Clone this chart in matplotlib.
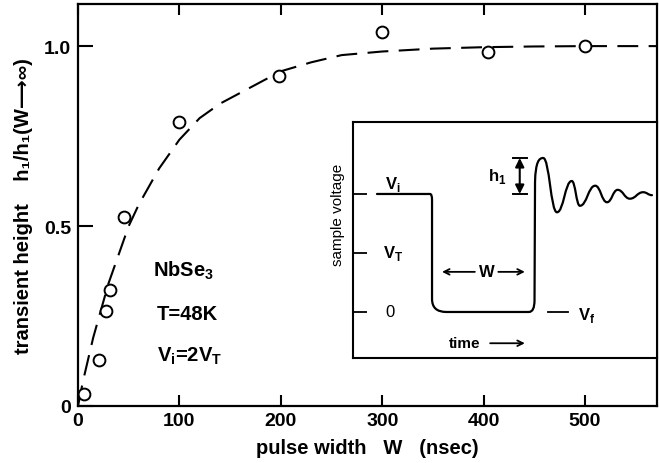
import matplotlib
matplotlib.use("Agg")
import matplotlib.pyplot as plt
from matplotlib.path import Path
from matplotlib.patches import PathPatch

plt.rcParams['font.family'] = ['Liberation Sans', 'DejaVu Sans']
plt.rcParams['font.weight'] = 'bold'
plt.rcParams['axes.labelweight'] = 'bold'
plt.rcParams['mathtext.fontset'] = 'custom'
plt.rcParams['mathtext.rm'] = 'Liberation Sans:bold'

# -----------------------------
# DATA
# -----------------------------
pulse_w = [6, 21, 28, 32, 45, 100, 198, 300, 404, 500]
height = [0.033, 0.128, 0.264, 0.322, 0.525, 0.79, 0.916, 1.039, 0.983, 1.0]

# dashed guide curve
fit_w = [0, 5, 10, 15, 20, 30, 40, 50, 60, 70, 80, 90, 100, 120, 140, 160,
         180, 200, 230, 260, 300, 350, 400, 450, 500, 570]
fit_h = [0, 0.07, 0.13, 0.19, 0.24, 0.34, 0.42, 0.50, 0.56, 0.61, 0.66, 0.70,
         0.74, 0.80, 0.84, 0.87, 0.90, 0.93, 0.955, 0.975, 0.985, 0.993,
         0.997, 0.999, 1.0, 1.0]

x_ticks = [0, 100, 200, 300, 400, 500]
y_ticks = [0, 0.5, 1.0]
y_ticklabels = ["0", "0.5", "1.0"]

# inset: schematic voltage vs time (W = 100 time units, V_T = 1, V_i = 2)
v_levels = [0, 1, 2]
ring_t = [109, 122.5, 137, 145, 160, 171.6, 182, 194, 207, 215.7]
ring_v = [2.61, 1.69, 2.22, 1.80, 2.14, 1.86, 2.07, 1.92, 2.03, 1.98]

# -----------------------------
# FIGURE
# -----------------------------
fig = plt.figure(figsize=(6.59, 4.64), dpi=100)
ax = fig.add_axes([78 / 659, 57 / 464, 579 / 659, 402 / 464])

ax.plot(fit_w, fit_h, color="black", lw=1.5, linestyle=(0, (10, 5)))
ax.plot(pulse_w, height, "o", mfc="white", mec="black", ms=8.5, mew=1.4)

ax.set_xlim(0, 571)
ax.set_ylim(0, 1.117)
ax.set_xticks(x_ticks)
ax.set_yticks(y_ticks)
ax.set_yticklabels(y_ticklabels)
ax.tick_params(axis="x", direction="in", length=8, width=1.5, top=True,
               labelsize=14, pad=4)
ax.tick_params(axis="y", direction="in", length=11, width=1.5,
               labelsize=14, pad=5)
for s in ax.spines.values():
    s.set_linewidth(1.6)

ax.set_xlabel("pulse width   W   (nsec)", fontsize=14.5, labelpad=7)
ax.set_ylabel("transient height    h\u2081/h\u2081(W\u27f6\u221e)",
              fontsize=14.5, labelpad=8)

ax.text(74, 0.378, r"NbSe$_\mathregular{3}$", fontsize=14.5, va="center")
ax.text(78, 0.258, "T=48K", fontsize=14.5, va="center")
ax.text(78, 0.14, r"V$_\mathregular{i}$=2V$_\mathregular{T}$", fontsize=14.5,
        va="center")

# -----------------------------
# INSET
# -----------------------------
ax_in = fig.add_axes([353 / 659, 105 / 464, 304 / 659, 236 / 464])
ax_in.set_xlim(-77.5, 220.6)
ax_in.set_ylim(-0.78, 3.22)
ax_in.set_xticks([])
ax_in.set_yticks(v_levels)
ax_in.set_yticklabels([])
ax_in.tick_params(axis="y", direction="in", length=10, width=1.3)
for s in ax_in.spines.values():
    s.set_linewidth(1.5)

verts = [(-54, 2.0), (-2, 2.0), (0, 2.0), (0, 1.9),
         (0, 0.22), (0, 0.0), (14, 0.0),
         (95, 0.0), (100.5, 0.0), (100.5, 0.2),
         (101, 2.2), (101.5, 2.55), (105, 2.61), (ring_t[0], ring_v[0])]
codes = [Path.MOVETO, Path.LINETO, Path.CURVE3, Path.CURVE3,
         Path.LINETO, Path.CURVE3, Path.CURVE3,
         Path.LINETO, Path.CURVE3, Path.CURVE3,
         Path.LINETO, Path.CURVE4, Path.CURVE4, Path.CURVE4]
for i in range(1, len(ring_t)):
    dt = ring_t[i] - ring_t[i - 1]
    verts += [(ring_t[i - 1] + 0.45 * dt, ring_v[i - 1]),
              (ring_t[i] - 0.45 * dt, ring_v[i]),
              (ring_t[i], ring_v[i])]
    codes += [Path.CURVE4, Path.CURVE4, Path.CURVE4]
ax_in.add_patch(PathPatch(Path(verts, codes), fill=False, lw=1.6,
                          edgecolor="black", capstyle="round"))

ax_in.plot([113.7, 133.3], [0, 0], color="black", lw=1.3)

# h1 marker
ax_in.plot([79, 93], [2.61, 2.61], color="black", lw=1.4)
ax_in.plot([79, 93], [2.0, 2.0], color="black", lw=1.4)
ax_in.annotate("", xy=(86, 2.61), xytext=(86, 2.0),
               arrowprops=dict(arrowstyle="<|-|>", color="black", lw=1.5,
                               shrinkA=0, shrinkB=0, mutation_scale=13))
ax_in.text(64, 2.31, r"h$_\mathregular{1}$", fontsize=12, ha="center",
           va="center")

# level labels
ax_in.text(-38, 2.18, r"V$_\mathregular{i}$", fontsize=12, ha="center",
           va="center")
ax_in.text(-38, 1.0, r"V$_\mathregular{T}$", fontsize=12, ha="center",
           va="center")
ax_in.text(-41, 0.0, "0", fontsize=12, ha="center", va="center",
           fontweight="normal")
ax_in.text(152, -0.05, r"V$_\mathregular{f}$", fontsize=12, ha="center",
           va="center")

# W arrows
ax_in.annotate("", xy=(9.8, 0.68), xytext=(42, 0.68),
               arrowprops=dict(arrowstyle="->", color="black", lw=1.3,
                               shrinkA=0, shrinkB=0))
ax_in.text(54, 0.68, "W", fontsize=12, ha="center", va="center")
ax_in.annotate("", xy=(91, 0.68), xytext=(65, 0.68),
               arrowprops=dict(arrowstyle="->", color="black", lw=1.3,
                               shrinkA=0, shrinkB=0))

# time arrow
ax_in.text(32, -0.53, "time", fontsize=11, ha="center", va="center")
ax_in.annotate("", xy=(91, -0.53), xytext=(57, -0.53),
               arrowprops=dict(arrowstyle="->", color="black", lw=1.3,
                               shrinkA=0, shrinkB=0))

fig.text(338 / 659, 1 - 215 / 464, "sample voltage", rotation=90,
         ha="center", va="center", fontsize=11, fontweight="normal")

fig.savefig("out.png", dpi=100)
